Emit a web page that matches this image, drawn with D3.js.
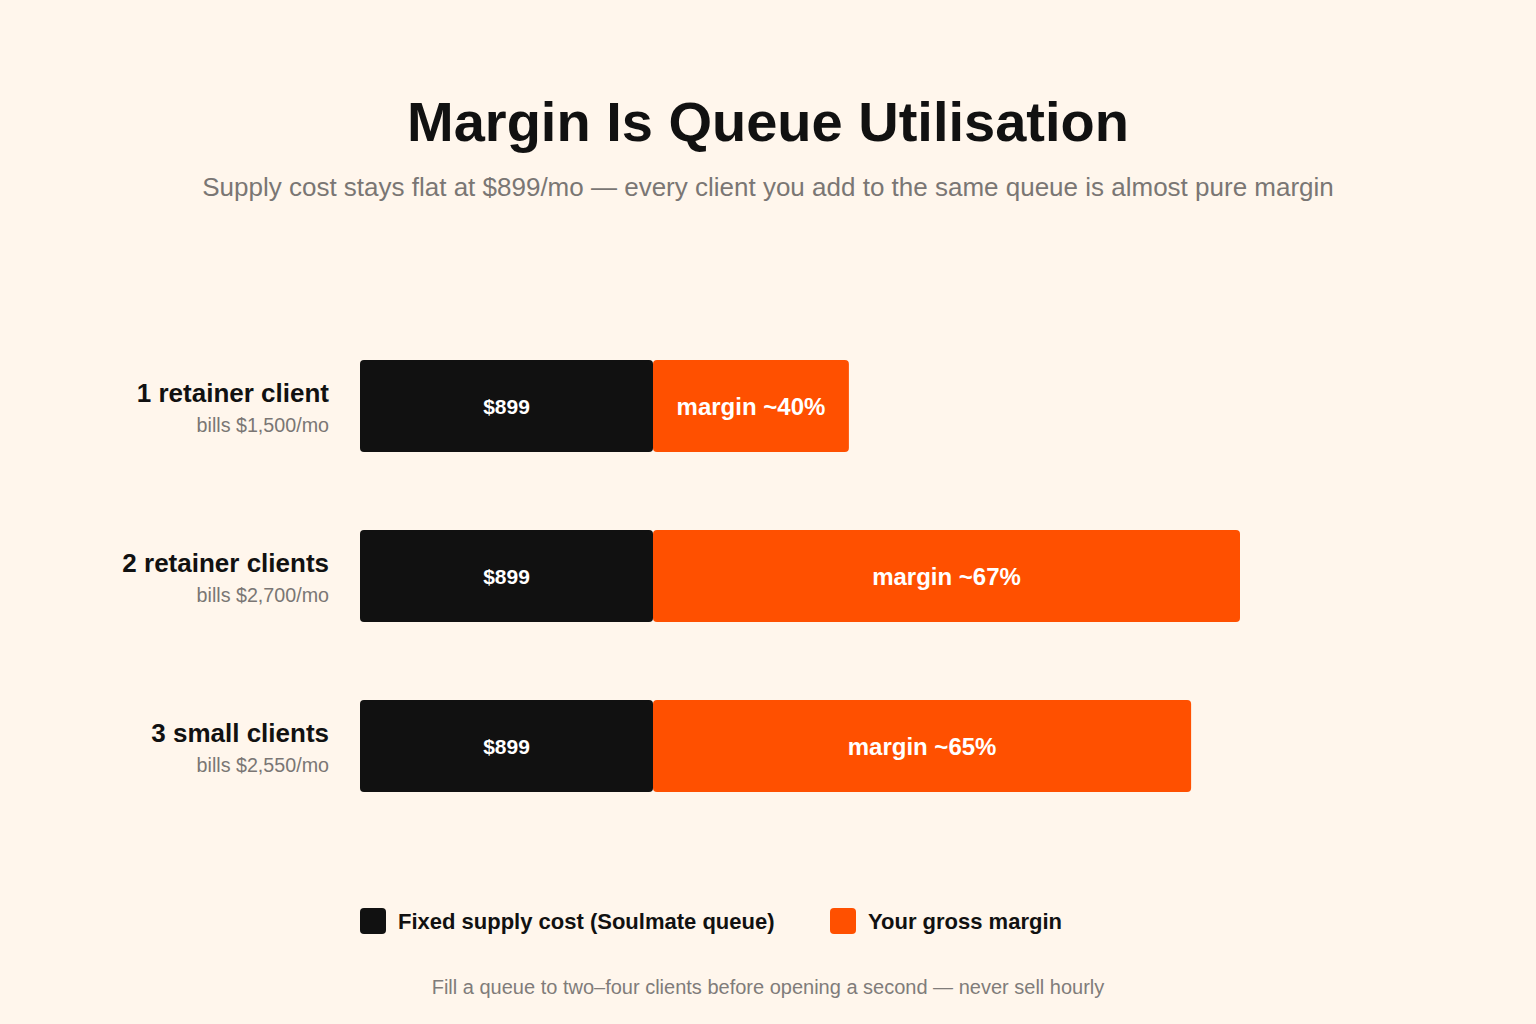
<!DOCTYPE html>
<html><head><meta charset="utf-8">
<script src="https://cdn.jsdelivr.net/npm/d3@7"></script>
<style>
html,body{margin:0;padding:0;background:#fff6ec;}
svg{display:block;}
</style></head>
<body>
<script>
const categories = ["1 retainer client", "2 retainer clients", "3 small clients"];
const billsLabels = ["bills $1,500/mo", "bills $2,700/mo", "bills $2,550/mo"];
const billed = [1500, 2700, 2550];
const supplyCost = [899, 899, 899];
const marginLabels = ["margin ~40%", "margin ~67%", "margin ~65%"];
const legendLabels = ["Fixed supply cost (Soulmate queue)", "Your gross margin"];

const W = 1536, H = 1024;
const svg = d3.select("body").append("svg").attr("width", W).attr("height", H);
svg.append("rect").attr("width", W).attr("height", H).attr("fill", "#fff6ec");

const sans = "'Liberation Sans', Arial, Helvetica, sans-serif";

svg.append("text").attr("x", 768).attr("y", 141).attr("text-anchor", "middle")
  .attr("font-family", sans).attr("font-weight", "bold").attr("font-size", 56)
  .attr("fill", "#111").text("Margin Is Queue Utilisation");
svg.append("text").attr("x", 768).attr("y", 196).attr("text-anchor", "middle")
  .attr("font-family", sans).attr("font-size", 26)
  .attr("fill", "#7a7674").text("Supply cost stays flat at $899/mo \u2014 every client you add to the same queue is almost pure margin");

const x = d3.scaleLinear().domain([0, 2700]).range([360, 1240]);
const y = d3.scaleBand().domain(categories).range([360, 792]).paddingInner(78/170).paddingOuter(0);

const rows = svg.append("g").selectAll("g").data(categories).join("g");
const bh = y.bandwidth();

rows.append("rect").attr("x", x(0)).attr("y", d => y(d))
  .attr("width", (d,i) => x(supplyCost[i]) - x(0)).attr("height", bh)
  .attr("rx", 4).attr("fill", "#111111");
rows.append("rect").attr("x", (d,i) => x(supplyCost[i])).attr("y", d => y(d))
  .attr("width", (d,i) => x(billed[i]) - x(supplyCost[i])).attr("height", bh)
  .attr("rx", 4).attr("fill", "#ff5000");

rows.append("text").attr("x", (d,i) => (x(0) + x(supplyCost[i]))/2).attr("y", d => y(d) + bh/2 + 7.5)
  .attr("text-anchor", "middle").attr("font-family", sans).attr("font-weight", "bold")
  .attr("font-size", 21).attr("fill", "#fff").text((d,i) => "$" + supplyCost[i]);
rows.append("text").attr("x", (d,i) => (x(supplyCost[i]) + x(billed[i]))/2).attr("y", d => y(d) + bh/2 + 8.5)
  .attr("text-anchor", "middle").attr("font-family", sans).attr("font-weight", "bold")
  .attr("font-size", 24).attr("fill", "#fff").text((d,i) => marginLabels[i]);

rows.append("text").attr("x", 329).attr("y", d => y(d) + 42)
  .attr("text-anchor", "end").attr("font-family", sans).attr("font-weight", "bold")
  .attr("font-size", 26).attr("fill", "#111").text(d => d);
rows.append("text").attr("x", 329).attr("y", (d) => y(d) + 72)
  .attr("text-anchor", "end").attr("font-family", sans)
  .attr("font-size", 19.7).attr("fill", "#7a7674").text((d,i) => billsLabels[i]);

const legendColors = ["#111111", "#ff5000"];
const legendX = [360, 830];
const lg = svg.append("g").selectAll("g").data(legendLabels).join("g");
lg.append("rect").attr("x", (d,i) => legendX[i]).attr("y", 908).attr("width", 26).attr("height", 26)
  .attr("rx", 4).attr("fill", (d,i) => legendColors[i]);
lg.append("text").attr("x", (d,i) => legendX[i] + 38).attr("y", 929)
  .attr("font-family", sans).attr("font-weight", "bold").attr("font-size", 22)
  .attr("fill", "#111").text(d => d);

svg.append("text").attr("x", 768).attr("y", 994).attr("text-anchor", "middle")
  .attr("font-family", sans).attr("font-size", 20)
  .attr("fill", "#807c7a").text("Fill a queue to two\u2013four clients before opening a second \u2014 never sell hourly");
</script>
</body></html>
